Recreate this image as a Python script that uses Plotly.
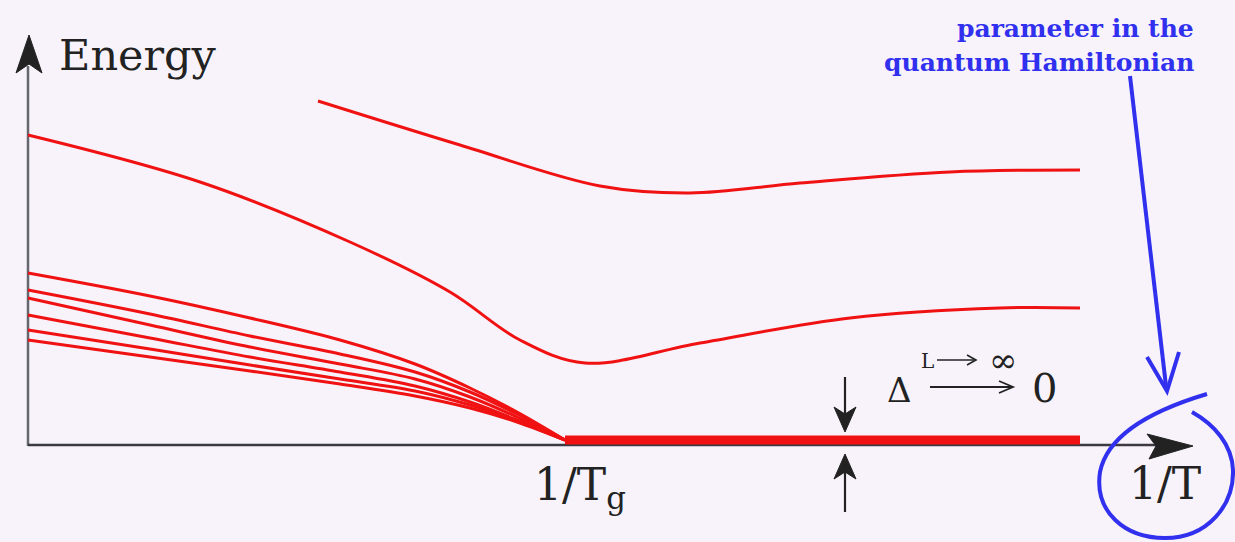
import plotly.graph_objects as go

# ---------------- data (chart units: origin at the axis corner) ----------------
x_top = [2.90, 4.32, 5.72, 6.62, 7.72, 9.22, 10.52]
y_top = [3.44, 3.00, 2.59, 2.52, 2.62, 2.73, 2.75]

x_second = [0.00, 1.72, 3.22, 4.22, 4.92, 5.57, 6.72, 8.22, 9.72, 10.52]
y_second = [3.10, 2.63, 2.03, 1.53, 1.05, 0.82, 1.02, 1.27, 1.37, 1.37]

x_bundle = [0.00, 1.22, 2.22, 3.12, 3.87, 4.42, 4.89, 5.37]
bundle_1 = [1.72, 1.49, 1.27, 1.05, 0.81, 0.57, 0.33, 0.05]
bundle_2 = [1.55, 1.31, 1.09, 0.91, 0.73, 0.53, 0.31, 0.05]
bundle_3 = [1.47, 1.20, 0.98, 0.81, 0.66, 0.48, 0.28, 0.05]
bundle_4 = [1.30, 1.07, 0.88, 0.73, 0.59, 0.43, 0.25, 0.05]
bundle_5 = [1.15, 0.96, 0.80, 0.66, 0.54, 0.40, 0.24, 0.05]
bundle_6 = [1.05, 0.88, 0.74, 0.61, 0.49, 0.37, 0.23, 0.05]

x_ground = [5.37, 10.52]
y_ground = [0.05, 0.05]

x_Tg = 5.52
x_T = 11.37
label_Tg = "1/T<sub>g</sub>"
label_T = "1/T"
label_y = "Energy"

# ---------------- helpers (pixel -> chart units, for decorations) ----------------
def X(px):
    return (px - 28) / 100.0

def Y(py):
    return (445 - py) / 100.0

RED = "#f01212"
BLUE = "#3030ee"
INK = "#222222"
SERIF = "DejaVu Serif"

fig = go.Figure()

for yy in [bundle_6, bundle_5, bundle_4, bundle_3, bundle_2, bundle_1]:
    fig.add_trace(go.Scatter(x=x_bundle, y=yy, mode="lines",
                             line=dict(color=RED, width=3, shape="spline", smoothing=1.0),
                             hoverinfo="skip", showlegend=False))
fig.add_trace(go.Scatter(x=x_second, y=y_second, mode="lines",
                         line=dict(color=RED, width=3, shape="spline", smoothing=1.0),
                         hoverinfo="skip", showlegend=False))
fig.add_trace(go.Scatter(x=x_top, y=y_top, mode="lines",
                         line=dict(color=RED, width=3, shape="spline", smoothing=1.0),
                         hoverinfo="skip", showlegend=False))
fig.add_trace(go.Scatter(x=x_ground, y=y_ground, mode="lines",
                         line=dict(color=RED, width=9),
                         hoverinfo="skip", showlegend=False))


def path(pts, close=True):
    s = "M " + " L ".join(f"{X(a):.4f},{Y(b):.4f}" for a, b in pts)
    return s + (" Z" if close else "")


def cpath(start, segs):
    s = f"M {X(start[0]):.4f},{Y(start[1]):.4f}"
    for seg in segs:
        s += " C " + " ".join(f"{X(a):.4f},{Y(b):.4f}" for a, b in seg)
    return s


def seg(p0, p1, color, width, layer="above"):
    return dict(type="line", xref="x", yref="y", layer=layer,
                x0=X(p0[0]), y0=Y(p0[1]), x1=X(p1[0]), y1=Y(p1[1]),
                line=dict(color=color, width=width))


def filled(pts, color):
    return dict(type="path", xref="x", yref="y", path=path(pts),
                fillcolor=color, line=dict(color=color, width=1))


def open_path(pts, color, width):
    return dict(type="path", xref="x", yref="y", path=path(pts, close=False),
                line=dict(color=color, width=width))


shapes = []
# axes
shapes.append(seg((28, 446), (28, 66), "#66666e", 2.5, "below"))
shapes.append(seg((28, 445), (1160, 445), "#3a3a40", 2.5, "below"))
shapes.append(filled([(29, 35), (16, 73), (29, 64), (42, 73)], INK))
shapes.append(filled([(1193, 446), (1147, 434), (1156, 446), (1149, 459)], INK))

# blue arrow and hand-drawn loop around 1/T
shapes.append(seg((1130, 76), (1166, 386), BLUE, 4))
shapes.append(open_path([(1147, 357), (1167, 391), (1179, 352)], BLUE, 4))
shapes.append(dict(type="path", xref="x", yref="y",
                   path=cpath((1207, 394), [
                       [(1160, 408), (1108, 432), (1100, 472)],
                       [(1094, 512), (1125, 538), (1165, 538)],
                       [(1208, 538), (1234, 505), (1233, 470)],
                       [(1232, 445), (1215, 425), (1192, 412)],
                   ]),
                   line=dict(color=BLUE, width=4)))

# gap arrows around the ground state
shapes.append(seg((845, 377), (845, 420), INK, 2.2))
shapes.append(filled([(845, 432), (834, 407), (845, 414), (856, 407)], INK))
shapes.append(seg((845, 466), (845, 512), INK, 2.2))
shapes.append(filled([(845, 454), (834, 479), (845, 472), (856, 479)], INK))

# Delta --L->inf--> 0 arrows
shapes.append(seg((930, 387), (1011, 387), INK, 1.8))
shapes.append(open_path([(999, 381), (1013, 387), (999, 393)], INK, 1.8))
shapes.append(seg((937, 360), (974, 360), INK, 1.6))
shapes.append(open_path([(967, 355), (976, 360), (967, 365)], INK, 1.6))

annotations = []


def text(px, py, s, size, color=INK, anchor="center", bold=False):
    annotations.append(dict(x=X(px), y=Y(py), xref="x", yref="y",
                            text=(f"<b>{s}</b>" if bold else s),
                            showarrow=False, xanchor=anchor, yanchor="middle",
                            font=dict(family=SERIF, size=size, color=color)))


text(57, 55, label_y, 43, anchor="left")
annotations.append(dict(x=x_Tg, y=Y(487), xref="x", yref="y", text=label_Tg,
                        showarrow=False, xanchor="center", yanchor="middle",
                        font=dict(family=SERIF, size=44, color=INK)))
annotations.append(dict(x=x_T, y=Y(483), xref="x", yref="y", text=label_T,
                        showarrow=False, xanchor="center", yanchor="middle",
                        font=dict(family=SERIF, size=44, color=INK)))
text(1196, 28, "parameter in the", 25, BLUE, "right", True)
text(1196, 62, "quantum Hamiltonian", 25, BLUE, "right", True)
text(899, 390, "Δ", 34)
text(1044, 388, "0", 40)
text(927, 361, "L", 20)
text(1003, 360, "∞", 34)

fig.update_layout(
    width=1235, height=542,
    margin=dict(l=0, r=0, t=0, b=0),
    paper_bgcolor="#f8f3fa", plot_bgcolor="#f8f3fa",
    xaxis=dict(range=[X(0), X(1235)], visible=False, fixedrange=True),
    yaxis=dict(range=[Y(542), Y(0)], visible=False, fixedrange=True),
    shapes=shapes, annotations=annotations,
    showlegend=False,
)

fig.write_html("out.html", config={"displayModeBar": False},
               post_script="document.body.style.margin='0px';document.body.style.overflow='hidden';")
